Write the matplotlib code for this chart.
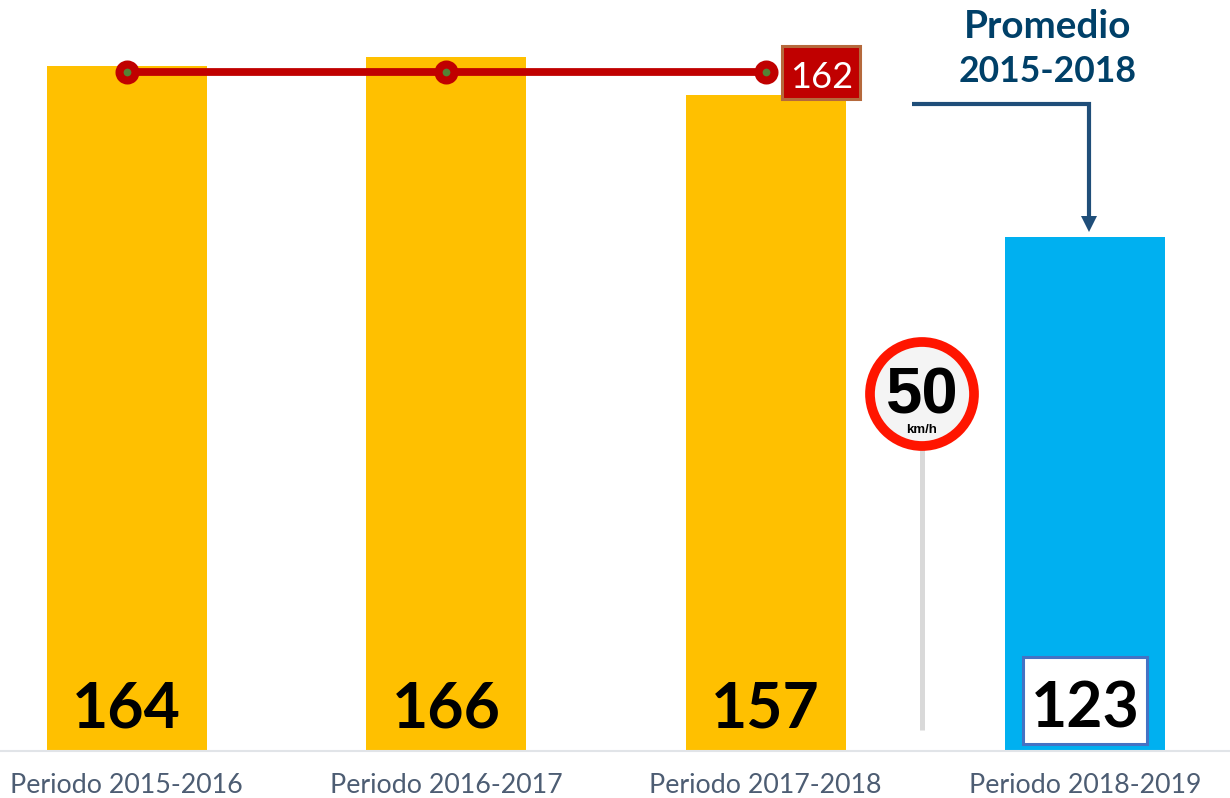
import matplotlib
matplotlib.use("Agg")
import matplotlib.pyplot as plt
from matplotlib.patches import Circle, Rectangle, Polygon

categories = ["Periodo 2015-2016", "Periodo 2016-2017", "Periodo 2017-2018", "Periodo 2018-2019"]
values = [164, 166, 157, 123]
bar_colors = ["#FFC000", "#FFC000", "#FFC000", "#00B0F0"]
average_line = [162.5, 162.5, 162.5]
average_label = "162"
note_title = "Promedio"
note_range = "2015-2018"
sign_speed = "50"
sign_unit = "km/h"

W, H = 1230, 798
fig = plt.figure(figsize=(W / 100, H / 100), dpi=100, facecolor="white")
ax = fig.add_axes([0, (H - 751) / H, 1, 751 / H])
positions = list(range(len(categories)))
ax.bar(positions, values, width=0.5, color=bar_colors, zorder=2)
ax.set_xlim(-0.3968, 3.4532)
ax.set_ylim(0, 179.75)
ax.plot(positions[:3], average_line, color="#C00000", lw=5.6, zorder=3, solid_capstyle="butt")
ax.plot(positions[:3], average_line, ls="none", marker="o", ms=11.5, mew=5.8,
        mfc="#548235", mec="#C00000", zorder=4)
for s in ["top", "left", "right"]:
    ax.spines[s].set_visible(False)
ax.spines["bottom"].set_color("#E1E4E8")
ax.spines["bottom"].set_linewidth(1.5)
ax.set_yticks([])
ax.set_xticks(positions, categories, fontfamily="Lato", fontsize=19.3, color="#4D5D73")
ax.tick_params(axis="x", length=0, pad=16)

# overlay in pixel coordinates for the annotations
ov = fig.add_axes([0, 0, 1, 1], facecolor="none")
ov.set_xlim(0, W)
ov.set_ylim(H, 0)
ov.axis("off")

# value labels
ov.add_patch(Rectangle((1023, 657), 124, 87, fc="white", ec="#4472C4", lw=2.2, zorder=5))
for p, v in zip(positions, values):
    x = ax.transData.transform((p, 0))[0]
    ov.text(x, 727, str(v), ha="center", va="baseline", fontfamily="Lato", fontweight="bold",
            fontsize=45, color="black", zorder=6)

# average label
ov.add_patch(Rectangle((782, 46), 78, 53, fc="#C00000", ec="#B5693C", lw=2.2, zorder=5))
ov.text(822, 88, average_label, ha="center", va="baseline", fontfamily="Lato", fontweight="normal",
        fontsize=26, color="white", zorder=6)

# note with elbow arrow
ov.text(1048, 38, note_title, ha="center", va="baseline", fontfamily="Lato", fontweight="bold",
        fontsize=27.8, color="#004068", zorder=6)
ov.text(1048, 82, note_range, ha="center", va="baseline", fontfamily="Lato", fontweight="bold",
        fontsize=25.6, color="#004068", zorder=6)
ov.plot([912, 1089, 1089], [104, 104, 217], color="#1F4E79", lw=3, solid_joinstyle="miter",
        solid_capstyle="butt", zorder=5)
ov.add_patch(Polygon([(1081, 216), (1097, 216), (1089, 232)], closed=True, fc="#1F4E79", ec="none", zorder=5))

# speed sign
ov.plot([922, 922], [445, 730], color="#D9D9D9", lw=3.6, solid_capstyle="butt", zorder=2)
ov.add_patch(Circle((922, 394), 52, fc="#F4F4F4", ec="#FF1500", lw=7, zorder=4))
ov.text(922, 413, sign_speed, ha="center", va="baseline", fontfamily="Liberation Sans",
        fontweight="bold", fontsize=47, color="black", zorder=5)
ov.text(922, 433, sign_unit, ha="center", va="baseline", fontfamily="Liberation Sans",
        fontweight="bold", fontsize=9.5, color="black", zorder=5)

fig.savefig("out.png", dpi=100)
